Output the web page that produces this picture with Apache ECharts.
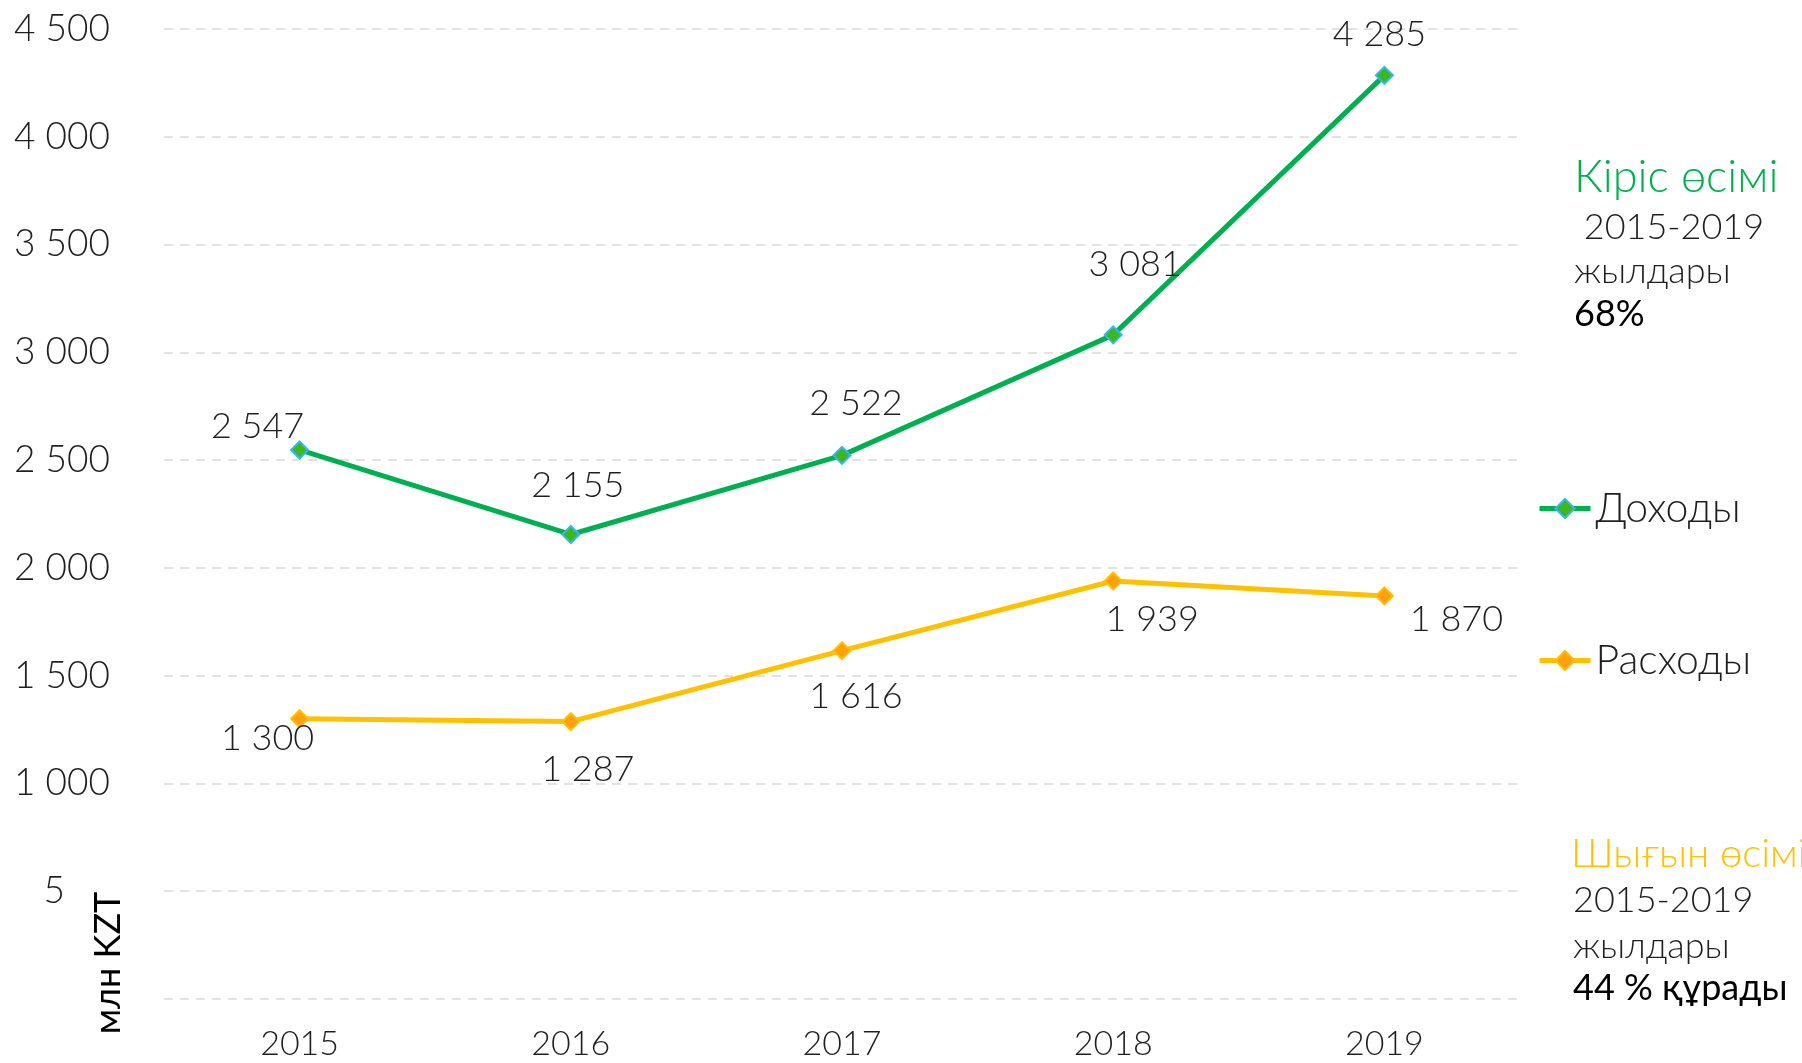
<!DOCTYPE html>
<html>
<head>
<meta charset="utf-8">
<script src="https://cdn.jsdelivr.net/npm/echarts@6/dist/echarts.min.js"></script>
<style>
  html, body { margin: 0; padding: 0; background: #fff; }
  #chart { width: 1802px; height: 1063px; }
</style>
</head>
<body>
<div id="chart"></div>
<script>
// данные
const years = ['2015', '2016', '2017', '2018', '2019'];
const incomeName = 'Доходы';
const incomeValues = [2547, 2155, 2522, 3081, 4285];
const expenseName = 'Расходы';
const expenseValues = [1300, 1287, 1616, 1939, 1870];
const yTicks = [0, 500, 1000, 1500, 2000, 2500, 3000, 3500, 4000, 4500];

// смещения подписей (как в исходнике, подписи сдвинуты вручную)
const incomeLabelOffsets = [[-42, -24], [7, -49], [14, -52], [22, -70], [-5, -41]];
const expenseLabelOffsets = [[-32, 20], [17, 48], [14, 46], [39, 38], [72, 23]];

const fontFamily = 'Lato, "Open Sans", sans-serif';
const textColor = '#1f1f1f';
const green = '#00b050';
const yellow = '#ffc000';

const fmt = (v) => String(v).replace(/\B(?=(\d{3})+(?!\d))/g, ' ');

const withLabels = (values, offsets) =>
  values.map((v, i) => ({
    value: v,
    label: { offset: offsets[i] }
  }));

const labelStyle = {
  show: true,
  position: 'inside',
  fontFamily: fontFamily,
  fontWeight: 300,
  fontSize: 36,
  color: textColor,
  formatter: (p) => fmt(p.value)
};

const chart = echarts.init(document.getElementById('chart'));

const option = {
  animation: false,
  grid: { left: 164, right: 282, top: 29, bottom: 64 },
  legend: {
    orient: 'vertical',
    left: 1532,
    top: 483,
    itemWidth: 51,
    itemHeight: 24,
    itemGap: 111,
    lineStyle: { width: 5 },
    textStyle: {
      fontFamily: fontFamily,
      fontWeight: 300,
      fontSize: 41,
      color: textColor
    },
    data: [incomeName, expenseName]
  },
  xAxis: {
    type: 'category',
    data: years,
    boundaryGap: true,
    axisLine: { show: false },
    axisTick: { show: false },
    axisLabel: {
      fontFamily: fontFamily,
      fontWeight: 300,
      fontSize: 34,
      color: textColor,
      margin: 28
    }
  },
  yAxis: {
    type: 'value',
    min: yTicks[0],
    max: yTicks[yTicks.length - 1],
    interval: 500,
    axisLine: { show: false },
    axisTick: { show: false },
    splitLine: {
      lineStyle: { color: '#d9d9d9', type: [9, 7], width: 1.5 }
    },
    axisLabel: {
      margin: 54,
      fontFamily: fontFamily,
      fontWeight: 300,
      fontSize: 37,
      color: textColor,
      formatter: (v) => {
        if (v === 0) return '';
        if (v === 500) return '{cut|5}';
        return fmt(v);
      },
      rich: {
        cut: {
          fontFamily: fontFamily,
          fontWeight: 300,
          fontSize: 37,
          color: textColor,
          padding: [0, 45, 0, 0]
        }
      }
    }
  },
  graphic: [
    {
      type: 'text',
      x: 108,
      y: 963,
      rotation: Math.PI / 2,
      style: {
        text: 'млн KZT',
        fontFamily: fontFamily,
        fontSize: 36,
        fill: '#000',
        align: 'center',
        verticalAlign: 'middle'
      }
    },
    {
      type: 'text',
      left: 1574,
      top: 155,
      style: {
        text: 'Кіріс өсімі',
        fontFamily: fontFamily,
        fontWeight: 300,
        fontSize: 45,
        fill: green
      }
    },
    {
      type: 'text',
      left: 1574,
      top: 205,
      style: {
        text: ' 2015-2019\nжылдары',
        fontFamily: fontFamily,
        fontWeight: 300,
        fontSize: 36,
        lineHeight: 44,
        fill: textColor
      }
    },
    {
      type: 'text',
      left: 1574,
      top: 296,
      style: {
        text: '68%',
        fontFamily: fontFamily,
        fontSize: 36,
        fill: '#000'
      }
    },
    {
      type: 'text',
      left: 1571,
      top: 834,
      style: {
        text: 'Шығын өсімі',
        fontFamily: fontFamily,
        fontWeight: 300,
        fontSize: 40,
        fill: yellow
      }
    },
    {
      type: 'text',
      left: 1573,
      top: 877,
      style: {
        text: '2015-2019\nжылдары',
        fontFamily: fontFamily,
        fontWeight: 300,
        fontSize: 36,
        lineHeight: 46,
        fill: textColor
      }
    },
    {
      type: 'text',
      left: 1573,
      top: 970,
      style: {
        text: '44 % құрады',
        fontFamily: fontFamily,
        fontSize: 36,
        fill: '#000'
      }
    }
  ],
  series: [
    {
      name: incomeName,
      type: 'line',
      data: withLabels(incomeValues, incomeLabelOffsets),
      symbol: 'diamond',
      symbolSize: 17,
      lineStyle: { color: green, width: 5 },
      itemStyle: { color: '#3cb81a', borderColor: '#33b5ff', borderWidth: 2 },
      label: labelStyle,
      z: 3
    },
    {
      name: expenseName,
      type: 'line',
      data: withLabels(expenseValues, expenseLabelOffsets),
      symbol: 'diamond',
      symbolSize: 17,
      lineStyle: { color: yellow, width: 5 },
      itemStyle: { color: '#ff9f12', borderColor: yellow, borderWidth: 2 },
      label: labelStyle,
      z: 3
    }
  ]
};

chart.setOption(option);
</script>
</body>
</html>
